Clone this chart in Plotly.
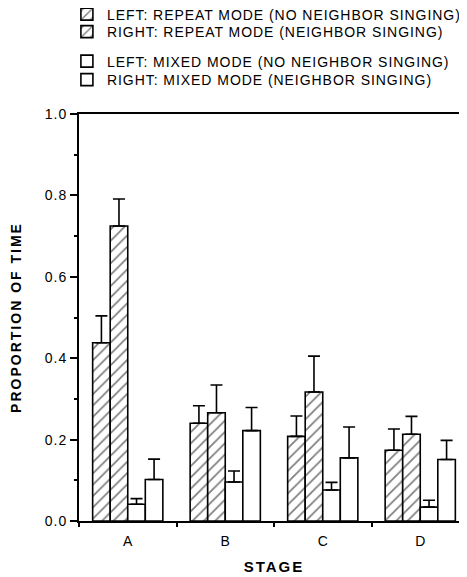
import plotly.graph_objects as go

stages = ["A", "B", "C", "D"]
series_names = [
    "LEFT: REPEAT MODE (NO NEIGHBOR SINGING)",
    "RIGHT: REPEAT MODE (NEIGHBOR SINGING)",
    "LEFT: MIXED MODE (NO NEIGHBOR SINGING)",
    "RIGHT: MIXED MODE (NEIGHBOR SINGING)",
]
left_repeat = [0.438, 0.240, 0.208, 0.174]
right_repeat = [0.725, 0.266, 0.317, 0.213]
left_mixed = [0.041, 0.096, 0.076, 0.034]
right_mixed = [0.102, 0.222, 0.155, 0.151]

left_repeat_err = [0.066, 0.043, 0.050, 0.052]
right_repeat_err = [0.066, 0.068, 0.088, 0.044]
left_mixed_err = [0.014, 0.027, 0.019, 0.017]
right_mixed_err = [0.050, 0.057, 0.076, 0.047]

y_ticks = [0.0, 0.2, 0.4, 0.6, 0.8, 1.0]
y_minor = [0.1, 0.3, 0.5, 0.7, 0.9]

values = [left_repeat, right_repeat, left_mixed, right_mixed]
errors = [left_repeat_err, right_repeat_err, left_mixed_err, right_mixed_err]
hatched = [True, True, False, False]
legend_ids = ["legend", "legend2", "legend3", "legend4"]
legend_y = [1.2445, 1.2015, 1.129, 1.0835]

FONT = "Liberation Sans, Arial, Helvetica, sans-serif"


def spaced(text, px):
    return '<span style="letter-spacing:%spx">%s</span>' % (px, text)


fig = go.Figure()
for name, vals, errs, h, lid in zip(series_names, values, errors, hatched, legend_ids):
    fig.add_trace(go.Bar(
        x=stages, y=vals, name=spaced(name, 0.95), legend=lid,
        marker=dict(
            color="white",
            line=dict(color="black", width=1.6),
            pattern=dict(shape="/" if h else "", fgcolor="black", bgcolor="white",
                         size=8, solidity=0.22),
        ),
        error_y=dict(type="data", array=errs, arrayminus=[0] * len(errs),
                     symmetric=False, color="black", thickness=1.6, width=6),
    ))

legend_common = dict(
    x=-0.031, xanchor="left", yanchor="middle",
    font=dict(size=14, color="black", family=FONT),
    bgcolor="rgba(0,0,0,0)", borderwidth=0,
)
layout_legends = {}
for lid, ly in zip(legend_ids, legend_y):
    layout_legends[lid] = dict(legend_common, y=ly)

fig.update_layout(
    width=467, height=577,
    margin=dict(l=71, r=6, t=106, b=64, autoexpand=False),
    paper_bgcolor="white", plot_bgcolor="white",
    barmode="group", bargap=0.28, bargroupgap=0,
    font=dict(family=FONT, size=14, color="black"),
    showlegend=True,
    **layout_legends,
    xaxis=dict(
        type="category", range=[-0.5, 3.5],
        showline=True, linecolor="black", linewidth=2, mirror=True,
        ticks="outside", tickson="boundaries", ticklen=4, tickcolor="black", tickwidth=1.5,
        ticklabelstandoff=6,
        showgrid=False, tickfont=dict(size=14),
        title=dict(text=spaced("STAGE", 2), font=dict(size=15, weight="bold"), standoff=14),
    ),
    yaxis=dict(
        range=[0, 1.0], tickvals=y_ticks,
        ticktext=[spaced("%.1f" % v, 1) for v in y_ticks],
        showline=True, linecolor="black", linewidth=2,
        ticks="outside", ticklen=7, tickcolor="black", tickwidth=1.5,
        minor=dict(tickvals=y_minor, ticks="outside", ticklen=3, tickcolor="black"),
        showgrid=False, zeroline=False, tickfont=dict(size=14),
        title=dict(text=spaced("PROPORTION OF TIME", 2), font=dict(size=14, weight="bold"), standoff=30),
    ),
)

fig.write_html("out.html")
